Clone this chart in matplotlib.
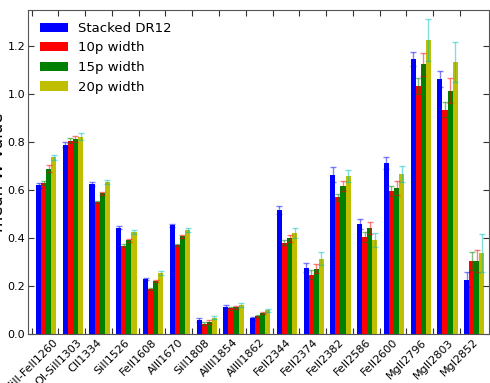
import numpy as np
import matplotlib
matplotlib.use('Agg')
import matplotlib.pyplot as plt

labels = ['SiII-FeII1260', 'OI-SiII1303', 'CII1334', 'SiII1526', 'FeII1608',
          'AlII1670', 'SiII1808', 'AlIII1854', 'AlIII1862', 'FeII2344',
          'FeII2374', 'FeII2382', 'FeII2586', 'FeII2600', 'MgII2796',
          'MgII2803', 'MgI2852']

dr12 = [0.620, 0.790, 0.627, 0.443, 0.231, 0.454, 0.059, 0.115, 0.066,
        0.516, 0.278, 0.665, 0.458, 0.714, 1.145, 1.062, 0.228]
dr12_err = [0.010, 0.010, 0.008, 0.006, 0.005, 0.006, 0.008, 0.007, 0.005,
            0.017, 0.017, 0.032, 0.020, 0.024, 0.028, 0.032, 0.032]

w10 = [0.629, 0.806, 0.550, 0.368, 0.187, 0.373, 0.045, 0.108, 0.076,
       0.382, 0.249, 0.571, 0.405, 0.596, 1.034, 0.935, 0.305]
w10_err = [0.008, 0.011, 0.005, 0.006, 0.004, 0.005, 0.005, 0.005, 0.004,
           0.010, 0.017, 0.015, 0.020, 0.021, 0.032, 0.030, 0.037]

w15 = [0.689, 0.813, 0.588, 0.391, 0.221, 0.408, 0.052, 0.112, 0.090,
       0.400, 0.274, 0.618, 0.442, 0.610, 1.124, 1.014, 0.307]
w15_err = [0.014, 0.012, 0.006, 0.007, 0.005, 0.006, 0.007, 0.008, 0.005,
           0.014, 0.020, 0.021, 0.025, 0.028, 0.048, 0.053, 0.046]

w20 = [0.737, 0.823, 0.633, 0.426, 0.256, 0.436, 0.070, 0.122, 0.100,
       0.423, 0.315, 0.661, 0.394, 0.668, 1.224, 1.134, 0.339]
w20_err = [0.011, 0.014, 0.008, 0.007, 0.008, 0.008, 0.008, 0.008, 0.007,
           0.020, 0.028, 0.025, 0.029, 0.033, 0.087, 0.084, 0.080]

series = [('Stacked DR12', dr12, dr12_err, 'b'),
          ('10p width', w10, w10_err, 'r'),
          ('15p width', w15, w15_err, 'g'),
          ('20p width', w20, w20_err, 'y')]
# errorbars follow the old default cycle b, g, r, c
err_colors = ['b', 'g', 'r', 'c']

ind = np.arange(len(labels))
width = 0.19
offset = 0.16

fig = plt.figure(figsize=(4.9, 3.83), dpi=100)
ax = fig.add_axes([0.057, 0.127, 0.941, 0.847])

for k, (name, vals, errs, col) in enumerate(series):
    x = ind + offset + k * width
    ax.bar(x, vals, width, align='edge', color=col, linewidth=0, label=name)
    ax.errorbar(x + width / 2, vals, yerr=errs, fmt='none',
                ecolor=err_colors[k], alpha=0.5, elinewidth=1, capsize=2)

ax.set_xlim(-0.14, 17.09)
ax.set_ylim(0, 1.35)
ax.set_yticks(np.arange(0, 1.3, 0.2))
ax.set_xticks(ind)
ax.set_xticklabels(labels, rotation=45, ha='center', fontsize=8)
ax.tick_params(axis='y', labelsize=8, pad=2)
ax.tick_params(axis='x', pad=2)
ax.tick_params(direction='in', top=True, right=True, length=4, color='#333333')
for sp in ax.spines.values():
    sp.set_color('#555555')

ax.set_ylabel('mean W value', fontsize=12)
ax.yaxis.set_label_coords(-0.045, 0.5)

ax.legend(loc='upper left', frameon=False, fontsize=9.5, handlelength=2.1,
          labelspacing=0.5)

plt.savefig('out.png', dpi=100)
